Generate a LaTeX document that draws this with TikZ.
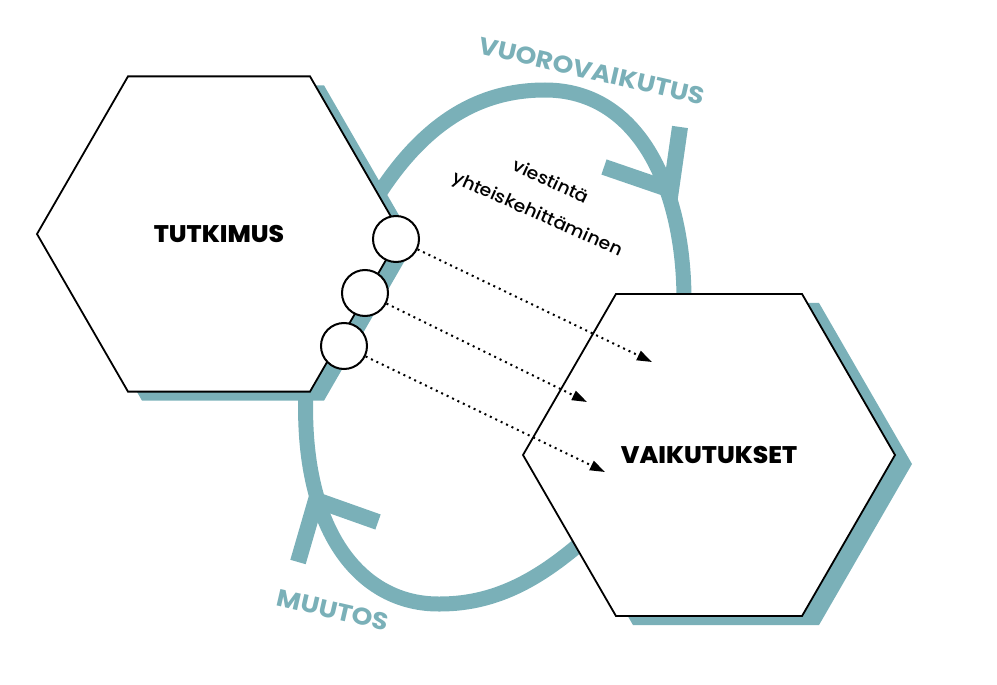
\documentclass[tikz,border=0pt]{standalone}
\usepackage{fontspec}
\setmainfont{Poppins}
\newfontfamily\headfont[FakeStretch=1.1]{Poppins}
\newfontfamily\blackfont[FakeStretch=1.04]{Poppins ExtraBold}
\newfontfamily\smallfont[FakeStretch=1.08]{Poppins Medium}
\usetikzlibrary{shapes.geometric,arrows.meta}
\definecolor{teal1}{RGB}{122,176,184}
\tikzset{
  band/.style={draw=teal1,line width=15pt},
  arm/.style={draw=teal1,line width=16pt,line join=miter,line cap=butt},
  hexa/.style={regular polygon,regular polygon sides=6,inner sep=0pt,draw=black,fill=white,line width=1.8pt},
  hexshadow/.style={regular polygon,regular polygon sides=6,inner sep=0pt,fill=teal1},
  dot/.style={circle,draw=black,fill=white,line width=2pt,minimum size=46pt,inner sep=0pt},
  flow/.style={line width=2pt,dash pattern=on 2pt off 4pt,-{Triangle[length=15pt,width=10pt]}},
  bigl/.style={font=\blackfont\fontsize{24}{27}\selectfont},
  tealbl/.style={text=teal1,font=\headfont\fontsize{24}{27}\selectfont\bfseries},
  smalll/.style={font=\smallfont\fontsize{17.5}{20}\selectfont}
}
\begin{document}
\begin{tikzpicture}[x=1pt,y=-1pt]
\useasboundingbox (0,0) rectangle (997,685);
% arcs
\draw[band] (372,205) .. controls (428,112) and (490,90) .. (545,90) .. controls (640,90) and (684,190) .. (684,300);
\draw[arm] (604,167) -- (671,190) -- (680,127);
\draw[band] (306,390) .. controls (300,530) and (360,605) .. (440,604) .. controls (500,604) and (545,575) .. (590,535);
\draw[arm] (298,562) -- (316,500) -- (378,522);
% shadows
\node[hexshadow,minimum size=364pt] (s1) at (233,243) {};
\node[hexshadow,minimum size=372pt] (s2) at (726,464) {};
% hexagons
\node[hexa,minimum size=364pt,bigl] (tut) at (219,234) {TUTKIMUS};
\node[hexa,minimum size=372pt,bigl] (vai) at (709,455) {VAIKUTUKSET};
% labels
\node[tealbl,rotate=-13] (vuo) at (592,71) {VUOROVAIKUTUS};
\node[tealbl,rotate=-13] (muu) at (333,610) {MUUTOS};
\node[smalll,rotate=-25] (vie) at (551,181) {viestintä};
\node[smalll,rotate=-24] (yht) at (537,215) {yhteiskehittäminen};
% circles
\node[dot] (c1) at (396,239) {};
\node[dot] (c2) at (365,293) {};
\node[dot] (c3) at (344,346) {};
\coordinate (t1) at (652,362);
\coordinate (t2) at (587,402);
\coordinate (t3) at (605,472);
\draw[flow] (c1) -- (t1);
\draw[flow] (c2) -- (t2);
\draw[flow] (c3) -- (t3);
\end{tikzpicture}
\end{document}
